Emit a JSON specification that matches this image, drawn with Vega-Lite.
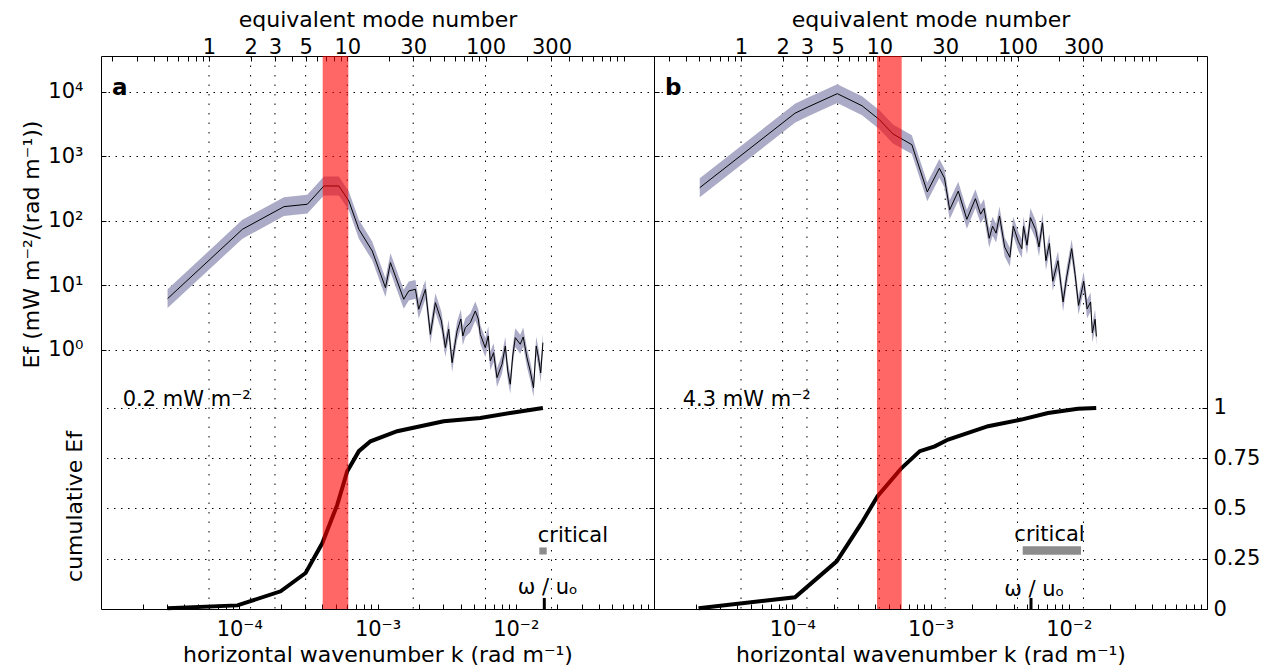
{
  "$schema": "https://vega.github.io/schema/vega-lite/v6.json",
  "padding": {"left": 19, "top": 7, "right": 5, "bottom": 5},
  "background": "white",
  "spacing": 0,
  "bounds": "flush",
  "datasets": {
    "modes": [{"mode": 1}, {"mode": 2}, {"mode": 3}, {"mode": 5}, {"mode": 10}, {"mode": 30}, {"mode": 100}, {"mode": 300}],
    "specA": [
      {"k": 3.03e-5, "E": 6.24, "lo": 4.46, "hi": 8.74},
      {"k": 1.054e-4, "E": 74.3, "lo": 53.1, "hi": 104},
      {"k": 2.106e-4, "E": 166.7, "lo": 119, "hi": 233},
      {"k": 3.107e-4, "E": 181.5, "lo": 130, "hi": 254},
      {"k": 4.096e-4, "E": 348.9, "lo": 249, "hi": 488},
      {"k": 5.255e-4, "E": 348.9, "lo": 249, "hi": 488},
      {"k": 6.206e-4, "E": 204, "lo": 146, "hi": 286},
      {"k": 7.33e-4, "E": 74.3, "lo": 53.1, "hi": 104},
      {"k": 9.16e-4, "E": 34.3, "lo": 24.5, "hi": 48},
      {"k": 1.142e-3, "E": 9.25, "lo": 6.61, "hi": 12.95},
      {"k": 1.241e-3, "E": 22.6, "lo": 16.1, "hi": 31.6},
      {"k": 1.548e-3, "E": 6.11, "lo": 4.36, "hi": 8.55},
      {"k": 1.683e-3, "E": 8.22, "lo": 5.87, "hi": 11.5},
      {"k": 1.881e-3, "E": 8.73, "lo": 6.24, "hi": 12.2},
      {"k": 1.987e-3, "E": 4.28, "lo": 3.06, "hi": 5.99},
      {"k": 2.221e-3, "E": 8.73, "lo": 6.24, "hi": 12.2},
      {"k": 2.413e-3, "E": 1.75, "lo": 1.25, "hi": 2.45},
      {"k": 2.623e-3, "E": 5.41, "lo": 3.86, "hi": 7.57},
      {"k": 2.898e-3, "E": 2.82, "lo": 2.01, "hi": 3.95},
      {"k": 3.097e-3, "E": 1.086, "lo": 0.776, "hi": 1.52},
      {"k": 3.272e-3, "E": 2.094, "lo": 1.496, "hi": 2.93},
      {"k": 3.463e-3, "E": 0.636, "lo": 0.454, "hi": 0.89},
      {"k": 3.763e-3, "E": 1.97, "lo": 1.41, "hi": 2.76},
      {"k": 4.008e-3, "E": 3.02, "lo": 2.16, "hi": 4.23},
      {"k": 4.143e-3, "E": 1.65, "lo": 1.18, "hi": 2.31},
      {"k": 4.318e-3, "E": 2.216, "lo": 1.583, "hi": 3.1},
      {"k": 4.693e-3, "E": 2.65, "lo": 1.89, "hi": 3.71},
      {"k": 5.1e-3, "E": 4.02, "lo": 2.87, "hi": 5.63},
      {"k": 5.36e-3, "E": 3.02, "lo": 2.16, "hi": 4.23},
      {"k": 5.54e-3, "E": 1.75, "lo": 1.25, "hi": 2.45},
      {"k": 6.02e-3, "E": 1.086, "lo": 0.776, "hi": 1.52},
      {"k": 6.33e-3, "E": 1.65, "lo": 1.18, "hi": 2.31},
      {"k": 6.545e-3, "E": 0.675, "lo": 0.482, "hi": 0.945},
      {"k": 6.914e-3, "E": 0.908, "lo": 0.649, "hi": 1.27},
      {"k": 7.316e-3, "E": 0.372, "lo": 0.266, "hi": 0.521},
      {"k": 7.95e-3, "E": 0.6, "lo": 0.429, "hi": 0.84},
      {"k": 8.4e-3, "E": 1.153, "lo": 0.824, "hi": 1.61},
      {"k": 8.757e-3, "E": 0.472, "lo": 0.337, "hi": 0.661},
      {"k": 9.13e-3, "E": 0.294, "lo": 0.21, "hi": 0.412},
      {"k": 9.51e-3, "E": 0.807, "lo": 0.576, "hi": 1.13},
      {"k": 9.92e-3, "E": 1.55, "lo": 1.107, "hi": 2.17},
      {"k": 1.078e-2, "E": 1.226, "lo": 0.876, "hi": 1.72},
      {"k": 1.133e-2, "E": 1.59, "lo": 1.136, "hi": 2.23},
      {"k": 1.205e-2, "E": 0.76, "lo": 0.543, "hi": 1.064},
      {"k": 1.273e-2, "E": 0.472, "lo": 0.337, "hi": 0.661},
      {"k": 1.344e-2, "E": 0.26, "lo": 0.186, "hi": 0.364},
      {"k": 1.406e-2, "E": 1.153, "lo": 0.824, "hi": 1.61},
      {"k": 1.461e-2, "E": 0.76, "lo": 0.543, "hi": 1.064},
      {"k": 1.515e-2, "E": 0.44, "lo": 0.314, "hi": 0.616},
      {"k": 1.572e-2, "E": 1.298, "lo": 0.927, "hi": 1.82}
    ],
    "specB": [
      {"k": 2.143e-5, "E": 328, "lo": 234, "hi": 459},
      {"k": 1.046e-4, "E": 4677, "lo": 3341, "hi": 6548},
      {"k": 1.279e-4, "E": 5754, "lo": 4110, "hi": 8056},
      {"k": 2.117e-4, "E": 9410, "lo": 6721, "hi": 13174},
      {"k": 3.197e-4, "E": 6110, "lo": 4364, "hi": 8554},
      {"k": 4.255e-4, "E": 3748, "lo": 2677, "hi": 5247},
      {"k": 5.354e-4, "E": 2233, "lo": 1595, "hi": 3126},
      {"k": 7.33e-4, "E": 1524, "lo": 1089, "hi": 2134},
      {"k": 9.48e-4, "E": 282.6, "lo": 201.9, "hi": 395.6},
      {"k": 1.159e-3, "E": 654, "lo": 467, "hi": 916},
      {"k": 1.262e-3, "E": 462, "lo": 330, "hi": 647},
      {"k": 1.376e-3, "E": 149, "lo": 106.4, "hi": 208.6},
      {"k": 1.588e-3, "E": 290, "lo": 207, "hi": 406},
      {"k": 1.832e-3, "E": 105.9, "lo": 75.6, "hi": 148.3},
      {"k": 2.113e-3, "E": 221.7, "lo": 158.4, "hi": 310.4},
      {"k": 2.304e-3, "E": 127.5, "lo": 91.1, "hi": 178.5},
      {"k": 2.438e-3, "E": 156.8, "lo": 112, "hi": 219.5},
      {"k": 2.658e-3, "E": 53.9, "lo": 38.5, "hi": 75.5},
      {"k": 2.812e-3, "E": 82.8, "lo": 59.1, "hi": 115.9},
      {"k": 2.981e-3, "E": 64.7, "lo": 46.2, "hi": 90.6},
      {"k": 3.155e-3, "E": 119.5, "lo": 85.4, "hi": 167.3},
      {"k": 3.44e-3, "E": 39.5, "lo": 28.2, "hi": 55.3},
      {"k": 3.75e-3, "E": 27.4, "lo": 19.6, "hi": 38.4},
      {"k": 3.969e-3, "E": 82.8, "lo": 59.1, "hi": 115.9},
      {"k": 4.326e-3, "E": 47.6, "lo": 34, "hi": 66.6},
      {"k": 4.577e-3, "E": 37.2, "lo": 26.6, "hi": 52.1},
      {"k": 4.708e-3, "E": 82.8, "lo": 59.1, "hi": 115.9},
      {"k": 4.99e-3, "E": 42.1, "lo": 30.1, "hi": 58.9},
      {"k": 5.28e-3, "E": 112.5, "lo": 80.4, "hi": 157.5},
      {"k": 5.76e-3, "E": 73.3, "lo": 52.4, "hi": 102.6},
      {"k": 6.09e-3, "E": 39.5, "lo": 28.2, "hi": 55.3},
      {"k": 6.458e-3, "E": 93.8, "lo": 67, "hi": 131.3},
      {"k": 6.835e-3, "E": 24.2, "lo": 17.3, "hi": 33.9},
      {"k": 7.244e-3, "E": 44.8, "lo": 32, "hi": 62.7},
      {"k": 7.66e-3, "E": 11.6, "lo": 8.29, "hi": 16.24},
      {"k": 8.36e-3, "E": 24.2, "lo": 17.3, "hi": 33.9},
      {"k": 9.1e-3, "E": 5.55, "lo": 3.96, "hi": 7.77},
      {"k": 9.64e-3, "E": 13.1, "lo": 9.36, "hi": 18.3},
      {"k": 1.05e-2, "E": 37.2, "lo": 26.6, "hi": 52.1},
      {"k": 1.112e-2, "E": 14.8, "lo": 10.6, "hi": 20.7},
      {"k": 1.177e-2, "E": 4.9, "lo": 3.5, "hi": 6.86},
      {"k": 1.283e-2, "E": 11.6, "lo": 8.29, "hi": 16.24},
      {"k": 1.358e-2, "E": 4.34, "lo": 3.1, "hi": 6.08},
      {"k": 1.439e-2, "E": 5.55, "lo": 3.96, "hi": 7.77},
      {"k": 1.481e-2, "E": 1.835, "lo": 1.31, "hi": 2.57},
      {"k": 1.551e-2, "E": 2.99, "lo": 2.14, "hi": 4.19},
      {"k": 1.585e-2, "E": 1.62, "lo": 1.16, "hi": 2.27}
    ],
    "cumA": [
      {"k": 3.03e-5, "cum": 0.004},
      {"k": 9.7e-5, "cum": 0.018},
      {"k": 1.993e-4, "cum": 0.088},
      {"k": 3.02e-4, "cum": 0.179},
      {"k": 3.99e-4, "cum": 0.328},
      {"k": 5.12e-4, "cum": 0.519},
      {"k": 6.04e-4, "cum": 0.685},
      {"k": 7.33e-4, "cum": 0.785},
      {"k": 8.9e-4, "cum": 0.834},
      {"k": 1.388e-3, "cum": 0.884},
      {"k": 3.01e-3, "cum": 0.934},
      {"k": 5.54e-3, "cum": 0.95},
      {"k": 9.13e-3, "cum": 0.975},
      {"k": 1.572e-2, "cum": 1.0}
    ],
    "cumB": [
      {"k": 2.1e-5, "cum": 0.004},
      {"k": 1.047e-4, "cum": 0.058},
      {"k": 2.096e-4, "cum": 0.237},
      {"k": 3.176e-4, "cum": 0.428},
      {"k": 4.14e-4, "cum": 0.561},
      {"k": 6.175e-4, "cum": 0.701},
      {"k": 8.37e-4, "cum": 0.785},
      {"k": 1.074e-3, "cum": 0.809},
      {"k": 1.342e-3, "cum": 0.843},
      {"k": 2.61e-3, "cum": 0.909},
      {"k": 4.54e-3, "cum": 0.942},
      {"k": 7.08e-3, "cum": 0.975},
      {"k": 1.165e-2, "cum": 0.996},
      {"k": 1.58e-2, "cum": 1.0}
    ],
    "bandA": [{"k": 4.014e-4, "k2": 6.15e-4}],
    "bandB": [{"k": 4.1e-4, "k2": 6.19e-4}],
    "critA": [{"k": 1.481e-2, "k2": 1.675e-2, "cum": 0.271, "cum2": 0.306}],
    "critB": [{"k": 4.643e-3, "k2": 1.226e-2, "cum": 0.27, "cum2": 0.312}],
    "omegaA": [{"k": 1.609e-2, "cum": 0, "cum2": 0.055}],
    "omegaB": [{"k": 5.333e-3, "cum": 0, "cum2": 0.055}],
    "textA": [
      {"k": 1.436e-5, "cum": 1.008, "label": "0.2 mW m⁻²"},
      {"k": 1.442e-2, "cum": 0.333, "label": "critical"},
      {"k": 1.033e-2, "cum": 0.073, "label": "ω / uₒ"}
    ],
    "textB": [
      {"k": 1.613e-5, "cum": 1.008, "label": "4.3 mW m⁻²"},
      {"k": 4.04e-3, "cum": 0.34, "label": "critical"},
      {"k": 3.418e-3, "cum": 0.063, "label": "ω / uₒ"}
    ],
    "tagA": [{"k": 1.2e-5, "cum": 2.556, "label": "a"}],
    "tagB": [{"k": 1.2e-5, "cum": 2.556, "label": "b"}]
  },
  "hconcat": [
    {
      "width": 553,
      "height": 553,
      "resolve": {"scale": {"x": "independent", "y": "independent"}},
      "layer": [
        {
          "data": {"name": "modes"},
          "mark": {"type": "rule", "color": "black", "strokeWidth": 1, "strokeDash": [1.5, 8]},
          "encoding": {
            "x": {
              "field": "mode", "type": "quantitative",
              "scale": {"type": "log", "domain": [0.1655, 1655], "nice": false},
              "axis": {
                "orient": "top", "title": "equivalent mode number",
                "values": [0.2, 0.3, 0.4, 0.5, 0.6, 0.7, 0.8, 0.9, 1, 2, 3, 4, 5, 6, 7, 8, 9, 10, 20, 30, 40, 50, 60, 70, 80, 90, 100, 200, 300, 400, 500, 600, 700, 800, 900, 1000],
                "labelExpr": "indexof([1,2,3,5,10,30,100,300], datum.value) >= 0 ? '' + datum.value : ''",
                "tickSize": -5, "labelPadding": 8, "labelBaseline": "alphabetic",
                "titleY": -30, "titleBaseline": "alphabetic", "grid": false, "labelOverlap": false
              }
            }
          }
        },
        {
          "data": {"name": "specA"},
          "encoding": {
            "x": {
              "field": "k", "type": "quantitative",
              "scale": {"type": "log", "domain": [0.00001, 0.1], "nice": false},
              "axis": {
                "orient": "bottom", "title": "horizontal wavenumber k (rad m⁻¹)",
                "values": [0.00002, 0.00003, 0.00004, 0.00005, 0.00006, 0.00007, 0.00008, 0.00009, 0.0001, 0.0002, 0.0003, 0.0004, 0.0005, 0.0006, 0.0007, 0.0008, 0.0009, 0.001, 0.002, 0.003, 0.004, 0.005, 0.006, 0.007, 0.008, 0.009, 0.01, 0.02, 0.03, 0.04, 0.05, 0.06, 0.07, 0.08, 0.09],
                "labelExpr": "datum.value == 0.0001 ? '10⁻⁴' : datum.value == 0.001 ? '10⁻³' : datum.value == 0.01 ? '10⁻²' : ''",
                "tickSize": -5, "labelPadding": 14, "labelBaseline": "top",
                "titleY": 52, "titleBaseline": "alphabetic", "grid": false, "labelOverlap": false
              }
            }
          },
          "layer": [
            {
              "mark": {"type": "area", "color": "#ababc7", "opacity": 1},
              "encoding": {
                "y": {
                  "field": "hi", "type": "quantitative", "title": "Ef (mW m⁻²/(rad m⁻¹))",
                  "scale": {"type": "log", "domain": [0.0000964, 36100], "nice": false},
                  "axis": {
                    "orient": "left", "values": [1, 10, 100, 1000, 10000],
                    "labelExpr": "datum.value == 1 ? '10⁰' : datum.value == 10 ? '10¹' : datum.value == 100 ? '10²' : datum.value == 1000 ? '10³' : '10⁴'",
                    "grid": true, "gridDash": [1.5, 5.5], "gridColor": "black",
                    "tickSize": -5, "labelPadding": 23,
                    "titleX": -70, "titleY": 188, "titleAngle": 270, "titleBaseline": "middle", "titleAlign": "center",
                    "labelOverlap": false
                  }
                },
                "y2": {"field": "lo"}
              }
            },
            {
              "mark": {"type": "line", "color": "black", "strokeWidth": 1},
              "encoding": {"y": {"field": "E", "type": "quantitative", "title": "Ef (mW m⁻²/(rad m⁻¹))"}}
            }
          ]
        },
        {
          "layer": [
            {
              "data": {"name": "cumA"},
              "mark": {"type": "line", "color": "black", "strokeWidth": 4},
              "encoding": {
                "x": {"field": "k", "type": "quantitative", "scale": {"type": "log", "domain": [0.00001, 0.1], "nice": false}, "axis": null},
                "y": {
                  "field": "cum", "type": "quantitative", "title": "cumulative Ef",
                  "scale": {"domain": [0, 2.75], "nice": false, "zero": false},
                  "axis": {
                    "orient": "right", "values": [0, 0.25, 0.5, 0.75, 1], "labels": false,
                    "grid": true, "gridDash": [1.5, 5.5], "gridColor": "black", "tickSize": -5,
                    "titleX": -580, "titleY": 450, "titleAngle": 270, "titleBaseline": "middle", "titleAlign": "center"
                  }
                }
              }
            },
            {
              "data": {"name": "critA"},
              "mark": {"type": "rect", "color": "#8c8c8c"},
              "encoding": {
                "x": {"field": "k", "type": "quantitative", "axis": null},
                "x2": {"field": "k2"},
                "y": {"field": "cum", "type": "quantitative", "title": "cumulative Ef"},
                "y2": {"field": "cum2"}
              }
            },
            {
              "data": {"name": "omegaA"},
              "mark": {"type": "rule", "color": "black", "strokeWidth": 3},
              "encoding": {
                "x": {"field": "k", "type": "quantitative", "axis": null},
                "y": {"field": "cum", "type": "quantitative", "title": "cumulative Ef"},
                "y2": {"field": "cum2"}
              }
            },
            {
              "data": {"name": "textA"},
              "mark": {"type": "text", "align": "left", "baseline": "alphabetic", "font": "DejaVu Sans", "fontSize": 21, "color": "black"},
              "encoding": {
                "x": {"field": "k", "type": "quantitative", "axis": null},
                "y": {"field": "cum", "type": "quantitative", "title": "cumulative Ef"},
                "text": {"field": "label"}
              }
            },
            {
              "data": {"name": "tagA"},
              "mark": {"type": "text", "align": "left", "baseline": "alphabetic", "font": "DejaVu Sans", "fontSize": 23, "fontWeight": "bold", "color": "black"},
              "encoding": {
                "x": {"field": "k", "type": "quantitative", "axis": null},
                "y": {"field": "cum", "type": "quantitative", "title": "cumulative Ef"},
                "text": {"field": "label"}
              }
            },
            {
              "data": {"name": "bandA"},
              "mark": {"type": "rect", "color": "#ff0000", "opacity": 0.6},
              "encoding": {
                "x": {"field": "k", "type": "quantitative", "axis": null},
                "x2": {"field": "k2"}
              }
            }
          ]
        }
      ]
    },
    {
      "width": 553,
      "height": 553,
      "resolve": {"scale": {"x": "independent", "y": "independent"}},
      "layer": [
        {
          "data": {"name": "modes"},
          "mark": {"type": "rule", "color": "black", "strokeWidth": 1, "strokeDash": [1.5, 8]},
          "encoding": {
            "x": {
              "field": "mode", "type": "quantitative",
              "scale": {"type": "log", "domain": [0.2348, 2348], "nice": false},
              "axis": {
                "orient": "top", "title": "equivalent mode number",
                "values": [0.3, 0.4, 0.5, 0.6, 0.7, 0.8, 0.9, 1, 2, 3, 4, 5, 6, 7, 8, 9, 10, 20, 30, 40, 50, 60, 70, 80, 90, 100, 200, 300, 400, 500, 600, 700, 800, 900, 1000, 2000],
                "labelExpr": "indexof([1,2,3,5,10,30,100,300], datum.value) >= 0 ? '' + datum.value : ''",
                "tickSize": -5, "labelPadding": 8, "labelBaseline": "alphabetic",
                "titleY": -30, "titleBaseline": "alphabetic", "grid": false, "labelOverlap": false
              }
            }
          }
        },
        {
          "data": {"name": "specB"},
          "encoding": {
            "x": {
              "field": "k", "type": "quantitative",
              "scale": {"type": "log", "domain": [0.00001, 0.1], "nice": false},
              "axis": {
                "orient": "bottom", "title": "horizontal wavenumber k (rad m⁻¹)",
                "values": [0.00002, 0.00003, 0.00004, 0.00005, 0.00006, 0.00007, 0.00008, 0.00009, 0.0001, 0.0002, 0.0003, 0.0004, 0.0005, 0.0006, 0.0007, 0.0008, 0.0009, 0.001, 0.002, 0.003, 0.004, 0.005, 0.006, 0.007, 0.008, 0.009, 0.01, 0.02, 0.03, 0.04, 0.05, 0.06, 0.07, 0.08, 0.09],
                "labelExpr": "datum.value == 0.0001 ? '10⁻⁴' : datum.value == 0.001 ? '10⁻³' : datum.value == 0.01 ? '10⁻²' : ''",
                "tickSize": -5, "labelPadding": 14, "labelBaseline": "top",
                "titleY": 52, "titleBaseline": "alphabetic", "grid": false, "labelOverlap": false
              }
            }
          },
          "layer": [
            {
              "mark": {"type": "area", "color": "#ababc7", "opacity": 1},
              "encoding": {
                "y": {
                  "field": "hi", "type": "quantitative", "title": null,
                  "scale": {"type": "log", "domain": [0.0000964, 36100], "nice": false},
                  "axis": {
                    "orient": "left", "values": [1, 10, 100, 1000, 10000], "labels": false,
                    "grid": true, "gridDash": [1.5, 5.5], "gridColor": "black", "tickSize": -5
                  }
                },
                "y2": {"field": "lo"}
              }
            },
            {
              "mark": {"type": "line", "color": "black", "strokeWidth": 1},
              "encoding": {"y": {"field": "E", "type": "quantitative", "title": null}}
            }
          ]
        },
        {
          "layer": [
            {
              "data": {"name": "cumB"},
              "mark": {"type": "line", "color": "black", "strokeWidth": 4},
              "encoding": {
                "x": {"field": "k", "type": "quantitative", "scale": {"type": "log", "domain": [0.00001, 0.1], "nice": false}, "axis": null},
                "y": {
                  "field": "cum", "type": "quantitative", "title": null,
                  "scale": {"domain": [0, 2.75], "nice": false, "zero": false},
                  "axis": {
                    "orient": "right", "values": [0, 0.25, 0.5, 0.75, 1],
                    "labelExpr": "'' + datum.value", "labelPadding": 11,
                    "grid": true, "gridDash": [1.5, 5.5], "gridColor": "black", "tickSize": -5, "labelOverlap": false
                  }
                }
              }
            },
            {
              "data": {"name": "critB"},
              "mark": {"type": "rect", "color": "#8c8c8c"},
              "encoding": {
                "x": {"field": "k", "type": "quantitative", "axis": null},
                "x2": {"field": "k2"},
                "y": {"field": "cum", "type": "quantitative", "title": null},
                "y2": {"field": "cum2"}
              }
            },
            {
              "data": {"name": "omegaB"},
              "mark": {"type": "rule", "color": "black", "strokeWidth": 3},
              "encoding": {
                "x": {"field": "k", "type": "quantitative", "axis": null},
                "y": {"field": "cum", "type": "quantitative", "title": null},
                "y2": {"field": "cum2"}
              }
            },
            {
              "data": {"name": "textB"},
              "mark": {"type": "text", "align": "left", "baseline": "alphabetic", "font": "DejaVu Sans", "fontSize": 21, "color": "black"},
              "encoding": {
                "x": {"field": "k", "type": "quantitative", "axis": null},
                "y": {"field": "cum", "type": "quantitative", "title": null},
                "text": {"field": "label"}
              }
            },
            {
              "data": {"name": "tagB"},
              "mark": {"type": "text", "align": "left", "baseline": "alphabetic", "font": "DejaVu Sans", "fontSize": 23, "fontWeight": "bold", "color": "black"},
              "encoding": {
                "x": {"field": "k", "type": "quantitative", "axis": null},
                "y": {"field": "cum", "type": "quantitative", "title": null},
                "text": {"field": "label"}
              }
            },
            {
              "data": {"name": "bandB"},
              "mark": {"type": "rect", "color": "#ff0000", "opacity": 0.6},
              "encoding": {
                "x": {"field": "k", "type": "quantitative", "axis": null},
                "x2": {"field": "k2"}
              }
            }
          ]
        }
      ]
    }
  ],
  "config": {
    "view": {"stroke": "black", "strokeWidth": 1},
    "axis": {
      "domain": false,
      "labelFont": "DejaVu Sans", "labelFontSize": 21, "labelColor": "black",
      "titleFont": "DejaVu Sans", "titleFontSize": 22, "titleColor": "black", "titleFontWeight": "normal",
      "tickColor": "black", "tickWidth": 1
    },
    "text": {"font": "DejaVu Sans"}
  }
}
